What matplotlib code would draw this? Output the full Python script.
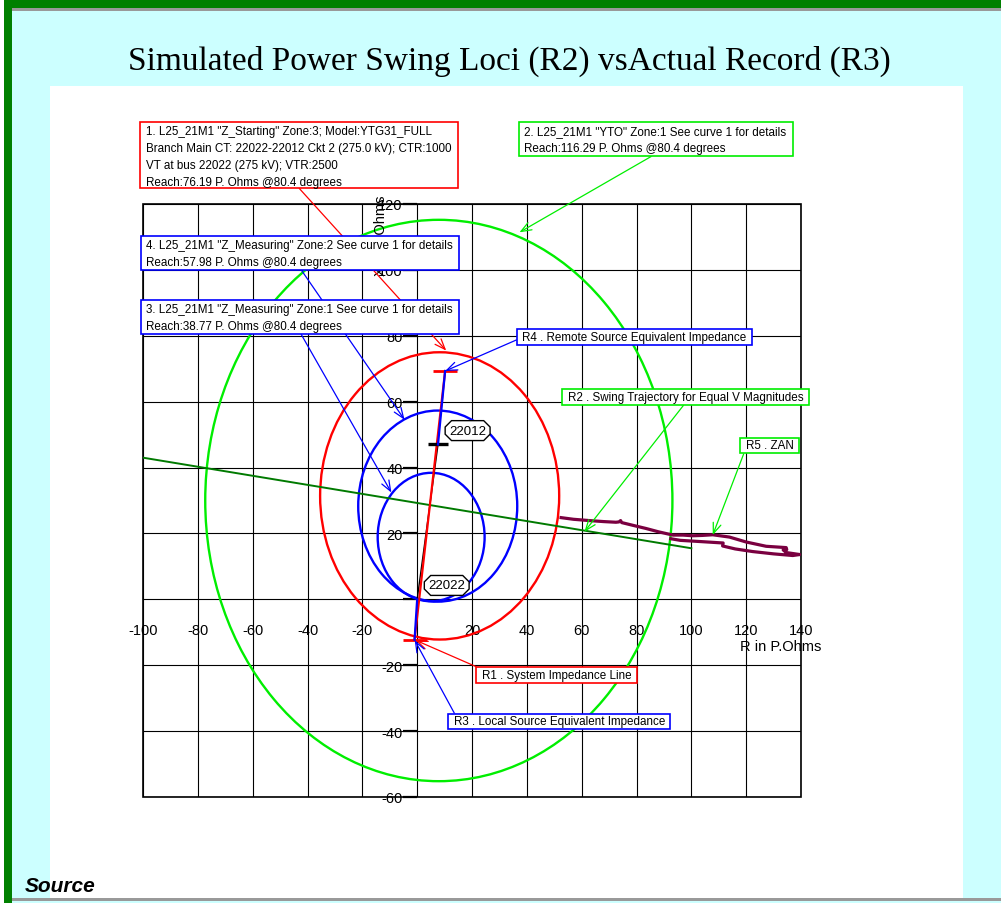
import matplotlib
matplotlib.use('Agg')
import matplotlib.pyplot as plt
from matplotlib.patches import Circle, Rectangle
from matplotlib.path import Path

# --- DATA (R and X in primary ohms) ---
ZONE_NAMES = ['YTO Zone 1', 'Z_Starting Zone 3', 'Z_Measuring Zone 2', 'Z_Measuring Zone 1']
ZONE_CENTER_R = [7.9, 8.2, 7.5, 5.1]
ZONE_CENTER_X = [30.0, 31.4, 28.3, 18.9]
ZONE_RADIUS = [85.2, 43.6, 29.0, 19.5]

SYS_R = [-0.95, 10.2]          # R1 system impedance line
SYS_X = [-12.3, 69.3]
LOCAL_R = [-0.95, 0.0]         # R3 local source
LOCAL_X = [-12.3, 0.0]
REMOTE_R = [7.6, 10.2]         # R4 remote source
REMOTE_X = [47.0, 69.3]
BRANCH_R = [0.0, 7.6]          # 22022 -> 22012
BRANCH_X = [0.0, 47.0]

BUS_NAMES = ['22022', '22012']
BUS_R = [0.0, 7.6]
BUS_X = [0.0, 47.0]

SWING_R = [-100, 100]          # R2 swing trajectory
SWING_X = [43.0, 15.5]

# R5 recorded impedance locus (ZAN)
REC_R = [52.5, 57, 62.9, 68, 72.5, 73.6, 74.2, 74.6, 79, 83.5, 88, 93.3, 97, 100.5, 104, 107.8,
         113.9, 120, 127.3, 131, 134.6, 134.8, 133.5, 134.6, 139.5, 137, 130, 122.4, 116, 111.4,
         111.6, 104, 96, 92.5]
REC_X = [24.8, 24.3, 23.9, 23.6, 23.4, 23.5, 23.9, 23.3, 22.4, 21.5, 20.5, 19.5, 19.5, 19.3, 19.4, 19.6,
         18.9, 17.4, 16.1, 15.9, 15.7, 15.1, 15.0, 14.2, 13.6, 13.3, 13.8, 14.5, 15.3, 16.2,
         17.1, 17.5, 17.9, 18.4]

X_TICKS = [-100, -80, -60, -40, -20, 0, 20, 40, 60, 80, 100, 120, 140]
Y_TICKS = [-60, -40, -20, 0, 20, 40, 60, 80, 100, 120]

LIME = '#00ee00'
ZONE_COLORS = [LIME, 'red', 'blue', 'blue']
W, H = 1001, 904

plt.rcParams['font.family'] = ['Liberation Sans', 'DejaVu Sans']

fig = plt.figure(figsize=(W / 100, H / 100), dpi=100, facecolor='#ccffff')


def fig_rect(x0, y0, x1, y1, color):
    # rectangle given in pixels measured from the top-left corner
    fig.patches.append(Rectangle((x0 / W, 1 - y1 / H), (x1 - x0) / W, (y1 - y0) / H,
                                 transform=fig.transFigure, facecolor=color,
                                 edgecolor='none', zorder=-1))


fig_rect(0, 0, W, 3, 'white')
fig_rect(0, 0, 4, H, 'white')
fig_rect(50, 87, 963, 899, 'white')
fig_rect(4, 1, W, 9, '#008000')
fig_rect(4, 1, 12, H, '#008000')
fig_rect(12, 9, W, 11.5, '#999999')
fig_rect(12, 899, W, 902, '#999999')

fig.text(509 / W, 1 - 61 / H, 'Simulated Power Swing Loci (R2) vsActual Record (R3)',
         ha='center', va='center', fontsize=24, family='Liberation Serif')
fig.text(25 / W, 1 - 887 / H, 'Source', ha='left', va='center', fontsize=15,
         fontweight='bold', fontstyle='italic', zorder=5)

ax = fig.add_axes([143 / W, 1 - 798 / H, 658 / W, 593 / H])
ax.set_zorder(2)
ax.set_xlim(-100, 140)
ax.set_ylim(-60, 120)
ax.set_axisbelow(True)
ax.grid(True, color='black', lw=0.8)
ax.patch.set_facecolor('white')
ax.patch.set_edgecolor('black')
ax.patch.set_linewidth(1.2)
for side in ['top', 'right']:
    ax.spines[side].set_visible(False)
ax.spines['left'].set_position(('data', 0))
ax.spines['bottom'].set_position(('data', 0))
ax.spines['left'].set_visible(False)
ax.spines['bottom'].set_visible(False)

ax.set_xticks(X_TICKS)
ax.set_xticklabels([str(t) if t != 0 else '' for t in X_TICKS])
ax.set_yticks(Y_TICKS)
ax.set_yticklabels([str(t) if t != 0 else '' for t in Y_TICKS])
ax.tick_params(axis='x', length=0, pad=17, labelsize=10.5)
ax.tick_params(axis='y', length=10, width=1.6, pad=0.5, labelsize=10.5, direction='out')

ax.text(-13.3, 110.6, 'X in P.Ohms', rotation=90, ha='center', va='center', fontsize=10.5, zorder=3)
ax.text(117.6, -14.2, 'R in P.Ohms', ha='left', va='center', fontsize=10.5, zorder=3)

# relay characteristics
for cr, cx, rad, col in zip(ZONE_CENTER_R, ZONE_CENTER_X, ZONE_RADIUS, ZONE_COLORS):
    ax.add_patch(Circle((cr, cx), rad, fill=False, edgecolor=col, lw=1.7, zorder=2))

# swing trajectory and recorded locus
ax.plot(SWING_R, SWING_X, color='#007a00', lw=1.4, zorder=3)
ax.plot(REC_R, REC_X, color='#7a0040', lw=2.3, zorder=3, solid_joinstyle='round')

# system impedance line with end bars
ax.plot(BRANCH_R, BRANCH_X, color='black', lw=1.0, zorder=4)
ax.plot(SYS_R, SYS_X, color='red', lw=1.6, zorder=4)
ax.plot(SYS_R, SYS_X, ls='none', marker='_', ms=17, mew=2, color='red', zorder=4)
ax.plot(BUS_R[1:], BUS_X[1:], ls='none', marker='_', ms=15, mew=2.4, color='black', zorder=4)
ax.plot(LOCAL_R, LOCAL_X, color='blue', lw=1.6, zorder=5)
ax.plot(REMOTE_R, REMOTE_X, color='blue', lw=1.6, zorder=5)


def octagon(x0, y0, width, height, mutation_size):
    pad = 0.3 * mutation_size
    x0, y0 = x0 - pad, y0 - pad
    x1, y1 = x0 + width + 2 * pad, y0 + height + 2 * pad
    c = 0.32 * (y1 - y0)
    verts = [(x0 + c, y0), (x1 - c, y0), (x1, y0 + c), (x1, y1 - c), (x1 - c, y1),
             (x0 + c, y1), (x0, y1 - c), (x0, y0 + c), (x0 + c, y0)]
    return Path(verts, closed=True)


def padded_box(padx, pad_top, pad_bottom):
    # plain rectangle with separate paddings (pixels)
    def box(x0, y0, width, height, mutation_size):
        xa, ya = x0 - padx, y0 - pad_bottom
        xb, yb = x0 + width + padx, y0 + height + pad_top
        return Path([(xa, ya), (xb, ya), (xb, yb), (xa, yb), (xa, ya)], closed=True)
    return box


for name, br, bx in zip(BUS_NAMES, BUS_R, BUS_X):
    ax.annotate(name, xy=(br, bx), xytext=(8, 10), textcoords='offset points',
                ha='left', va='center', fontsize=9.5, zorder=6,
                bbox=dict(boxstyle=octagon, facecolor='white', edgecolor='black', lw=1.0))


def note(text, target, pos, color, relpos, va='top', padx=6.0, pads=(3.5, 0.0)):
    # pos is in pixels from the top-left corner of the figure
    ax.annotate(text, xy=target, xycoords='data', xytext=(pos[0], H - pos[1]),
                textcoords='figure pixels', ha='left', va=va, fontsize=8.35,
                linespacing=1.55, zorder=10, annotation_clip=False,
                bbox=dict(boxstyle=padded_box(padx, pads[0], pads[1]), facecolor='white',
                          edgecolor=color, lw=1.2),
                arrowprops=dict(arrowstyle='->,head_length=0.9,head_width=0.35', color=color,
                                lw=0.9, shrinkA=0, shrinkB=0, relpos=relpos))


note('1. L25_21M1 "Z_Starting" Zone:3; Model:YTG31_FULL\n'
     'Branch Main CT: 22022-22012 Ckt 2 (275.0 kV); CTR:1000\n'
     'VT at bus 22022 (275 kV); VTR:2500\n'
     'Reach:76.19 P. Ohms @80.4 degrees', (10.6, 75.5), (146, 126), 'red', (0.5, 0))
two = dict(pads=(3.5, 2.0))
note('2. L25_21M1 "YTO" Zone:1 See curve 1 for details\n'
     'Reach:116.29 P. Ohms @80.4 degrees', (37.3, 111.4), (524.5, 126), LIME, (0.5, 0), **two)
note('4. L25_21M1 "Z_Measuring" Zone:2 See curve 1 for details\n'
     'Reach:57.98 P. Ohms @80.4 degrees', (-4.6, 54.5), (146.5, 240), 'blue', (0.5, 0), **two)
note('3. L25_21M1 "Z_Measuring" Zone:1 See curve 1 for details\n'
     'Reach:38.77 P. Ohms @80.4 degrees', (-9.4, 32.4), (146.5, 304), 'blue', (0.5, 0), **two)

single = dict(va='center', padx=5.5, pads=(1.8, 1.8))
note('R4 . Remote Source Equivalent Impedance', (10.2, 69.3), (522.5, 338.3), 'blue', (0, 0.5), **single)
note('R2 . Swing Trajectory for Equal V Magnitudes', (61.0, 20.5), (567.5, 398), LIME, (0.5, 0), **single)
note('R5 . ZAN', (107.8, 19.5), (745.5, 446.5), LIME, (0, 0.2), **single)
note('R1 . System Impedance Line', (-0.6, -12.4), (481.5, 676), 'red', (0, 1), **single)
note('R3 . Local Source Equivalent Impedance', (-0.9, -12.4), (453.5, 722.5), 'blue', (0.01, 1), **single)

fig.savefig('out.png', dpi=100, facecolor=fig.get_facecolor())
